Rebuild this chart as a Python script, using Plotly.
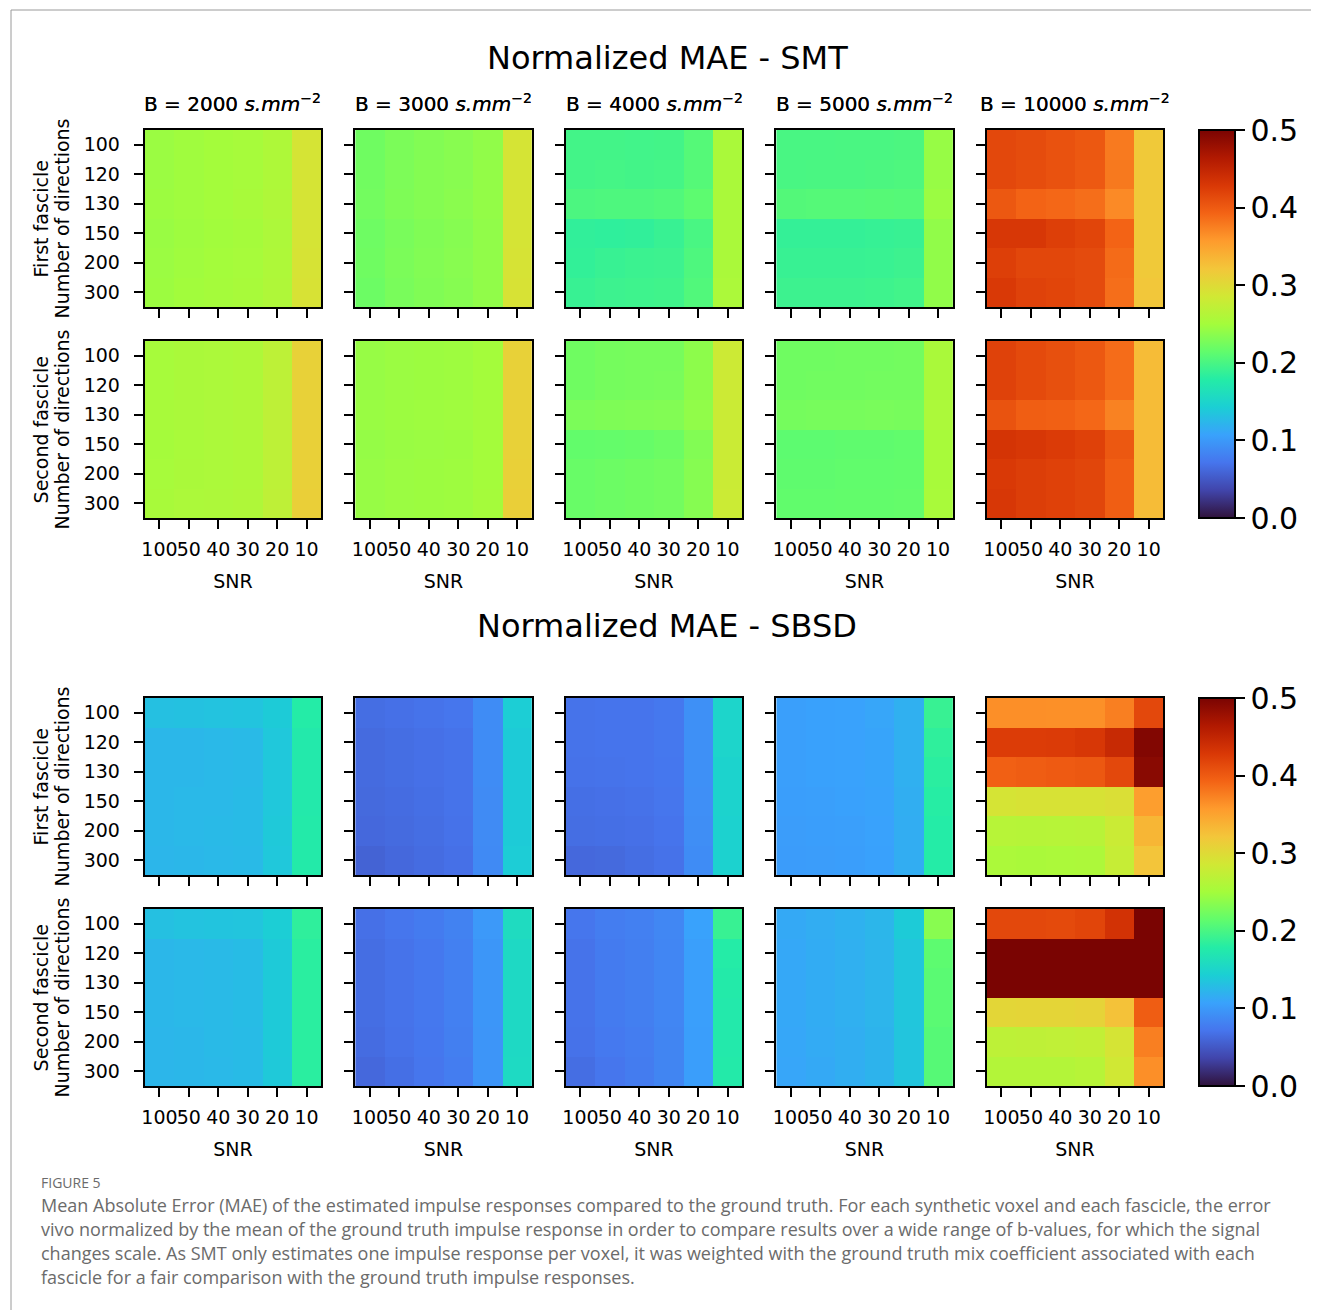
import plotly.graph_objects as go

W, H = 1319, 1310
OFF = 8  # default page margin of the written html

snr_labels = ["100", "50", "40", "30", "20", "10"]
dir_labels = ["100", "120", "130", "150", "200", "300"]
b_values = [2000, 3000, 4000, 5000, 10000]
methods = ["SMT", "SBSD"]
fascicles = ["First fascicle", "Second fascicle"]

# SMT, first fascicle: one 6x6 grid (rows = directions, cols = SNR) per b-value
smt_f1_b2000 = [
    [0.245, 0.248, 0.250, 0.252, 0.258, 0.290],
    [0.245, 0.248, 0.250, 0.252, 0.258, 0.290],
    [0.246, 0.248, 0.250, 0.253, 0.259, 0.290],
    [0.244, 0.247, 0.249, 0.251, 0.257, 0.290],
    [0.245, 0.248, 0.250, 0.252, 0.258, 0.291],
    [0.246, 0.249, 0.251, 0.253, 0.259, 0.292],
]
smt_f1_b3000 = [
    [0.222, 0.228, 0.232, 0.235, 0.240, 0.290],
    [0.223, 0.229, 0.233, 0.235, 0.241, 0.290],
    [0.224, 0.230, 0.233, 0.236, 0.241, 0.290],
    [0.221, 0.227, 0.231, 0.234, 0.240, 0.290],
    [0.222, 0.228, 0.232, 0.235, 0.240, 0.291],
    [0.220, 0.227, 0.231, 0.234, 0.240, 0.292],
]
smt_f1_b4000 = [
    [0.197, 0.197, 0.196, 0.197, 0.207, 0.255],
    [0.197, 0.198, 0.197, 0.198, 0.207, 0.255],
    [0.202, 0.203, 0.203, 0.205, 0.212, 0.255],
    [0.186, 0.185, 0.186, 0.190, 0.200, 0.255],
    [0.187, 0.190, 0.192, 0.193, 0.203, 0.255],
    [0.190, 0.193, 0.194, 0.195, 0.205, 0.256],
]
smt_f1_b5000 = [
    [0.200, 0.200, 0.201, 0.201, 0.202, 0.243],
    [0.200, 0.201, 0.201, 0.202, 0.203, 0.243],
    [0.206, 0.207, 0.207, 0.208, 0.207, 0.245],
    [0.188, 0.188, 0.188, 0.189, 0.190, 0.240],
    [0.190, 0.190, 0.190, 0.191, 0.193, 0.240],
    [0.193, 0.193, 0.193, 0.194, 0.196, 0.240],
]
smt_f1_b10000 = [
    [0.415, 0.412, 0.407, 0.402, 0.378, 0.318],
    [0.415, 0.411, 0.407, 0.401, 0.379, 0.318],
    [0.402, 0.393, 0.390, 0.386, 0.368, 0.318],
    [0.430, 0.430, 0.423, 0.418, 0.393, 0.318],
    [0.423, 0.416, 0.416, 0.413, 0.388, 0.318],
    [0.428, 0.420, 0.418, 0.413, 0.386, 0.320],
]

# SMT, second fascicle
smt_f2_b2000 = [
    [0.252, 0.255, 0.256, 0.258, 0.270, 0.310],
    [0.252, 0.255, 0.256, 0.258, 0.270, 0.310],
    [0.253, 0.255, 0.257, 0.259, 0.271, 0.310],
    [0.251, 0.254, 0.256, 0.258, 0.270, 0.311],
    [0.252, 0.255, 0.256, 0.258, 0.270, 0.311],
    [0.253, 0.256, 0.257, 0.259, 0.271, 0.312],
]
smt_f2_b3000 = [
    [0.243, 0.245, 0.246, 0.247, 0.250, 0.310],
    [0.243, 0.245, 0.246, 0.247, 0.250, 0.310],
    [0.244, 0.246, 0.247, 0.248, 0.251, 0.310],
    [0.242, 0.244, 0.245, 0.246, 0.250, 0.310],
    [0.243, 0.245, 0.246, 0.247, 0.250, 0.311],
    [0.243, 0.245, 0.246, 0.247, 0.251, 0.312],
]
smt_f2_b4000 = [
    [0.222, 0.225, 0.226, 0.226, 0.238, 0.282],
    [0.222, 0.225, 0.226, 0.227, 0.238, 0.282],
    [0.228, 0.230, 0.231, 0.232, 0.240, 0.280],
    [0.215, 0.216, 0.217, 0.220, 0.232, 0.280],
    [0.218, 0.220, 0.222, 0.224, 0.234, 0.280],
    [0.218, 0.220, 0.222, 0.224, 0.234, 0.281],
]
smt_f2_b5000 = [
    [0.222, 0.222, 0.223, 0.223, 0.224, 0.255],
    [0.222, 0.223, 0.223, 0.224, 0.224, 0.255],
    [0.225, 0.226, 0.226, 0.227, 0.226, 0.256],
    [0.212, 0.212, 0.213, 0.213, 0.214, 0.253],
    [0.213, 0.213, 0.214, 0.214, 0.215, 0.253],
    [0.214, 0.214, 0.215, 0.215, 0.216, 0.254],
]
smt_f2_b10000 = [
    [0.420, 0.414, 0.409, 0.402, 0.387, 0.330],
    [0.420, 0.414, 0.409, 0.402, 0.387, 0.330],
    [0.406, 0.397, 0.395, 0.390, 0.373, 0.330],
    [0.433, 0.430, 0.426, 0.421, 0.402, 0.330],
    [0.428, 0.424, 0.421, 0.417, 0.397, 0.330],
    [0.430, 0.424, 0.421, 0.417, 0.397, 0.330],
]

# SBSD, first fascicle
sbsd_f1_b2000 = [
    [0.131, 0.132, 0.133, 0.134, 0.140, 0.178],
    [0.124, 0.124, 0.125, 0.126, 0.137, 0.175],
    [0.124, 0.124, 0.125, 0.126, 0.137, 0.175],
    [0.124, 0.125, 0.125, 0.127, 0.137, 0.175],
    [0.124, 0.125, 0.126, 0.127, 0.138, 0.176],
    [0.123, 0.124, 0.125, 0.126, 0.137, 0.176],
]
sbsd_f1_b3000 = [
    [0.066, 0.068, 0.070, 0.072, 0.090, 0.142],
    [0.064, 0.066, 0.068, 0.070, 0.090, 0.140],
    [0.064, 0.066, 0.068, 0.070, 0.090, 0.140],
    [0.063, 0.065, 0.067, 0.070, 0.089, 0.140],
    [0.062, 0.064, 0.066, 0.069, 0.089, 0.140],
    [0.058, 0.062, 0.065, 0.068, 0.088, 0.141],
]
sbsd_f1_b4000 = [
    [0.070, 0.071, 0.071, 0.074, 0.093, 0.150],
    [0.070, 0.071, 0.071, 0.074, 0.093, 0.150],
    [0.069, 0.070, 0.071, 0.073, 0.093, 0.148],
    [0.067, 0.068, 0.069, 0.072, 0.092, 0.148],
    [0.066, 0.067, 0.068, 0.071, 0.091, 0.147],
    [0.062, 0.063, 0.066, 0.069, 0.090, 0.147],
]
sbsd_f1_b5000 = [
    [0.105, 0.106, 0.107, 0.110, 0.118, 0.190],
    [0.105, 0.106, 0.107, 0.109, 0.118, 0.185],
    [0.105, 0.106, 0.107, 0.109, 0.118, 0.182],
    [0.104, 0.105, 0.106, 0.108, 0.117, 0.180],
    [0.103, 0.104, 0.105, 0.107, 0.116, 0.178],
    [0.102, 0.103, 0.104, 0.106, 0.116, 0.178],
]
sbsd_f1_b10000 = [
    [0.365, 0.365, 0.364, 0.364, 0.375, 0.415],
    [0.425, 0.425, 0.426, 0.430, 0.445, 0.495],
    [0.395, 0.398, 0.400, 0.402, 0.415, 0.490],
    [0.290, 0.292, 0.292, 0.292, 0.295, 0.355],
    [0.265, 0.264, 0.265, 0.266, 0.280, 0.335],
    [0.256, 0.255, 0.256, 0.257, 0.277, 0.322],
]

# SBSD, second fascicle
sbsd_f2_b2000 = [
    [0.131, 0.133, 0.134, 0.135, 0.142, 0.185],
    [0.124, 0.125, 0.126, 0.128, 0.139, 0.182],
    [0.124, 0.125, 0.126, 0.128, 0.139, 0.182],
    [0.124, 0.125, 0.126, 0.128, 0.139, 0.182],
    [0.123, 0.124, 0.126, 0.127, 0.139, 0.182],
    [0.123, 0.124, 0.125, 0.127, 0.138, 0.182],
]
sbsd_f2_b3000 = [
    [0.068, 0.072, 0.076, 0.082, 0.100, 0.158],
    [0.066, 0.070, 0.074, 0.080, 0.098, 0.155],
    [0.066, 0.070, 0.074, 0.080, 0.098, 0.155],
    [0.066, 0.070, 0.074, 0.080, 0.098, 0.155],
    [0.065, 0.069, 0.073, 0.079, 0.097, 0.155],
    [0.062, 0.067, 0.072, 0.078, 0.097, 0.156],
]
sbsd_f2_b4000 = [
    [0.072, 0.078, 0.080, 0.086, 0.107, 0.190],
    [0.070, 0.076, 0.079, 0.085, 0.105, 0.178],
    [0.070, 0.076, 0.079, 0.085, 0.105, 0.176],
    [0.070, 0.076, 0.079, 0.085, 0.105, 0.175],
    [0.069, 0.075, 0.078, 0.084, 0.104, 0.175],
    [0.066, 0.072, 0.077, 0.084, 0.104, 0.176],
]
sbsd_f2_b5000 = [
    [0.113, 0.116, 0.119, 0.123, 0.140, 0.235],
    [0.112, 0.115, 0.118, 0.122, 0.136, 0.212],
    [0.112, 0.115, 0.118, 0.122, 0.136, 0.210],
    [0.112, 0.115, 0.118, 0.122, 0.136, 0.210],
    [0.111, 0.114, 0.117, 0.121, 0.135, 0.208],
    [0.110, 0.113, 0.117, 0.121, 0.135, 0.208],
]
sbsd_f2_b10000 = [
    [0.415, 0.415, 0.414, 0.418, 0.435, 0.520],
    [0.520, 0.520, 0.520, 0.520, 0.520, 0.520],
    [0.520, 0.520, 0.520, 0.520, 0.520, 0.520],
    [0.305, 0.306, 0.306, 0.308, 0.325, 0.398],
    [0.270, 0.271, 0.272, 0.274, 0.290, 0.375],
    [0.262, 0.262, 0.262, 0.265, 0.285, 0.365],
]

grids = {
    ("SMT", 0): [smt_f1_b2000, smt_f1_b3000, smt_f1_b4000, smt_f1_b5000, smt_f1_b10000],
    ("SMT", 1): [smt_f2_b2000, smt_f2_b3000, smt_f2_b4000, smt_f2_b5000, smt_f2_b10000],
    ("SBSD", 0): [sbsd_f1_b2000, sbsd_f1_b3000, sbsd_f1_b4000, sbsd_f1_b5000, sbsd_f1_b10000],
    ("SBSD", 1): [sbsd_f2_b2000, sbsd_f2_b3000, sbsd_f2_b4000, sbsd_f2_b5000, sbsd_f2_b10000],
}

caption_title = "FIGURE 5"
caption_lines = [
    "Mean Absolute Error (MAE) of the estimated impulse responses compared to the ground truth. For each synthetic voxel and each fascicle, the error",
    "vivo normalized by the mean of the ground truth impulse response in order to compare results over a wide range of b-values, for which the signal",
    "changes scale. As SMT only estimates one impulse response per voxel, it was weighted with the ground truth mix coefficient associated with each",
    "fascicle for a fair comparison with the ground truth impulse responses.",
]

FONT = "DejaVu Sans"
FW, FH = W - OFF, H - OFF
group_top = [130, 698]
row_pitch = 211
col_left0 = 142
col_pitch = 211
size = 177


def px_x(x):
    return (x - OFF) / FW


def px_y(y):
    return 1 - (y - OFF) / FH


fig = go.Figure()
layout = {}
annotations = []
k = 0
for g, method in enumerate(methods):
    for r in range(2):
        for c in range(5):
            k += 1
            xa = "x" if k == 1 else f"x{k}"
            ya = "y" if k == 1 else f"y{k}"
            left = col_left0 + c * col_pitch
            top = group_top[g] + r * row_pitch
            fig.add_trace(go.Heatmap(
                z=grids[(method, r)][c], x=snr_labels, y=dir_labels,
                xaxis=xa, yaxis=ya, coloraxis="coloraxis" if g == 0 else "coloraxis2",
                hovertemplate="SNR %{x}<br>dirs %{y}<br>%{z:.3f}<extra></extra>",
            ))
            axcommon = dict(showline=True, mirror=True, linecolor="black", linewidth=2,
                            ticks="outside", ticklen=9, tickwidth=2, tickcolor="black",
                            showgrid=False, zeroline=False, fixedrange=True,
                            tickfont=dict(family=FONT, size=19, color="black"))
            xkey = "xaxis" if k == 1 else f"xaxis{k}"
            ykey = "yaxis" if k == 1 else f"yaxis{k}"
            layout[xkey] = dict(axcommon, domain=[px_x(left), px_x(left + size)], anchor=ya,
                                type="category", showticklabels=(r == 1), tickangle=0,
                                ticklabelstandoff=4,
                                title=dict(text="SNR" if r == 1 else "", standoff=16,
                                           font=dict(family=FONT, size=19, color="black")))
            layout[ykey] = dict(axcommon, domain=[px_y(top + size), px_y(top)], anchor=xa,
                                type="category", autorange="reversed", showticklabels=(c == 0),
                                ticklabelstandoff=10)
            if r == 0:
                annotations.append(dict(
                    text=f"B = {b_values[c]} <i>s.mm</i><sup>−2</sup>",
                    x=px_x(left + size / 2), y=px_y(103), xref="paper", yref="paper",
                    xanchor="center", yanchor="middle", showarrow=False,
                    font=dict(family=FONT, size=20, color="black")))
            if c == 0:
                for li, (txt, xx) in enumerate([(fascicles[r], 38), ("Number of directions", 59)]):
                    annotations.append(dict(
                        text=txt, x=px_x(xx), y=px_y(top + size / 2), xref="paper", yref="paper",
                        xanchor="center", yanchor="middle", showarrow=False, textangle=-90,
                        font=dict(family=FONT, size=19, color="black")))
    annotations.append(dict(
        text=f"Normalized MAE - {method}", x=px_x(666), y=px_y(group_top[g] - 72),
        xref="paper", yref="paper", xanchor="center", yanchor="middle", showarrow=False,
        font=dict(family=FONT, size=32, color="black")))

annotations.append(dict(text=caption_title, x=px_x(36), y=px_y(1182), xref="paper", yref="paper",
                        xanchor="left", yanchor="middle", showarrow=False,
                        font=dict(family="Open Sans", size=14, color="#6b6b6b")))
for i, line in enumerate(caption_lines):
    annotations.append(dict(text=line, x=px_x(36), y=px_y(1205 + 24 * i), xref="paper", yref="paper",
                            xanchor="left", yanchor="middle", showarrow=False,
                            font=dict(family="Open Sans", size=18, color="#6b6b6b")))


def cbar(g):
    top = group_top[g]
    total = size * 2 + (row_pitch - size)
    return dict(
        cmin=0, cmax=0.5, colorscale="Turbo",
        colorbar=dict(x=px_x(1199), xanchor="left", xref="paper", xpad=0, ypad=0,
                      y=px_y(top + total / 2), yanchor="middle",
                      lenmode="pixels", len=total, thicknessmode="pixels", thickness=36,
                      outlinewidth=2, outlinecolor="black",
                      tickvals=[0, 0.1, 0.2, 0.3, 0.4, 0.5], tickformat=".1f",
                      tickprefix="\u2009",
                      ticks="outside", ticklen=9, tickwidth=2, tickcolor="black",
                      tickfont=dict(family=FONT, size=30, color="black")))


layout["coloraxis"] = cbar(0)
layout["coloraxis2"] = cbar(1)

fig.update_layout(
    width=FW, height=FH, margin=dict(l=0, r=0, t=0, b=0),
    paper_bgcolor="white", plot_bgcolor="white",
    annotations=annotations, showlegend=False,
    shapes=[dict(type="rect", xref="paper", yref="paper", x0=px_x(8), x1=1.02,
                 y0=-0.02, y1=px_y(10), line=dict(color="#9a9a9a", width=1))],
    **layout,
)

fig.write_html("out.html")
